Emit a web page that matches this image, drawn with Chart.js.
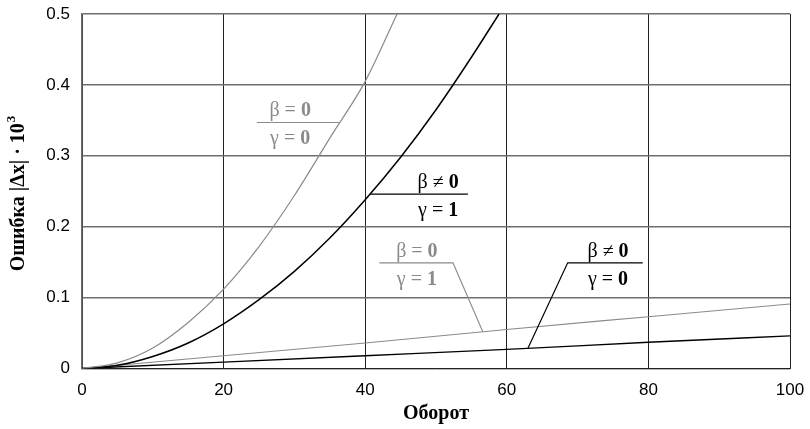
<!DOCTYPE html>
<html>
<head>
<meta charset="utf-8">
<script src="https://cdn.jsdelivr.net/npm/chart.js@4.4.0/dist/chart.umd.min.js"></script>
<style>
  html, body { margin: 0; padding: 0; background: #fff; }
  #wrap { width: 810px; height: 429px; }
</style>
</head>
<body>
<div id="wrap"><canvas id="grafico"></canvas></div>
<script>
// данные
const xTicks = [0, 20, 40, 60, 80, 100];
const yTicks = ['0', '0.1', '0.2', '0.3', '0.4', '0.5'];

const xB0G0 = [0, 5, 10, 15, 20, 25, 30, 35, 40, 44.5];
const yB0G0 = [0, 0.008, 0.029, 0.065, 0.112, 0.172, 0.244, 0.325, 0.405, 0.5];

const xBnG1 = [0, 5, 10, 15, 20, 25, 30, 35, 40, 45, 50, 55, 58.9];
const yBnG1 = [0, 0.0045, 0.017, 0.036, 0.063, 0.097, 0.137, 0.184, 0.238, 0.298, 0.365, 0.439, 0.5];

const xLin = [0, 20, 40, 60, 80, 100];
const yB0G1 = [0, 0.018, 0.036, 0.055, 0.073, 0.091];
const yBnG0 = [0, 0.009, 0.018, 0.027, 0.037, 0.046];

const pts = (xs, ys) => xs.map((x, i) => ({ x: x, y: ys[i] }));

// подписи кривых (в координатах данных)
const notes = [
    { top: [['β', 0], [' = ', 0], ['0', 1]], bottom: [['γ', 0], [' = ', 0], ['0', 1]],
      color: '#8a8a8a', tx: 29.4, path: [[24.7, 0.347], [36.3, 0.347]] },
    { top: [['β', 0], [' ≠ ', 0], ['0', 1]], bottom: [['γ', 0], [' = ', 0], ['1', 1]],
      color: '#000', tx: 50.3, path: [[40.7, 0.246], [54.5, 0.246]] },
    { top: [['β', 0], [' = ', 0], ['0', 1]], bottom: [['γ', 0], [' = ', 0], ['1', 1]],
      color: '#8a8a8a', tx: 47.3, path: [[42.0, 0.149], [52.4, 0.149], [56.6, 0.052]] },
    { top: [['β', 0], [' ≠ ', 0], ['0', 1]], bottom: [['γ', 0], [' = ', 0], ['0', 1]],
      color: '#000', tx: 74.3, path: [[79.2, 0.149], [68.6, 0.149], [63.0, 0.029]] }
];

function drawParts(ctx, parts, cx, y, color) {
    ctx.fillStyle = color;
    let fonts = parts.map(p => (p[1] ? 'bold ' : '') + '20px "Liberation Serif", "DejaVu Serif", serif');
    let w = 0;
    parts.forEach((p, i) => { ctx.font = fonts[i]; w += ctx.measureText(p[0]).width; });
    let x = cx - w / 2;
    parts.forEach((p, i) => {
        ctx.font = fonts[i];
        ctx.fillText(p[0], x, y);
        x += ctx.measureText(p[0]).width;
    });
}

const notesPlugin = {
    id: 'notes',
    afterDatasetsDraw(chart) {
        let ctx = chart.ctx;
        let xs = chart.scales.x, ys = chart.scales.y;
        ctx.save();
        notes.forEach(n => {
            ctx.strokeStyle = n.color;
            ctx.lineWidth = 1.2;
            ctx.beginPath();
            n.path.forEach((p, i) => {
                let px = xs.getPixelForValue(p[0]), py = ys.getPixelForValue(p[1]);
                if (i === 0) ctx.moveTo(px, py); else ctx.lineTo(px, py);
            });
            ctx.stroke();
            let cx = xs.getPixelForValue(n.tx);
            let ly = ys.getPixelForValue(n.path[0][1]);
            ctx.textBaseline = 'alphabetic';
            drawParts(ctx, n.top, cx, ly - 6, n.color);
            drawParts(ctx, n.bottom, cx, ly + 22, n.color);
        });
        ctx.restore();
    },
    afterDraw(chart) {
        let ctx = chart.ctx;
        let a = chart.chartArea;
        ctx.save();
        ctx.fillStyle = '#000';
        ctx.textBaseline = 'middle';
        // подпись оси X
        ctx.font = 'bold 20px "Liberation Serif", serif';
        ctx.textAlign = 'center';
        ctx.fillText('Оборот', (a.left + a.right) / 2, 414);
        // подпись оси Y
        ctx.translate(19, 194);
        ctx.rotate(-Math.PI / 2);
        ctx.textAlign = 'left';
        let main = 'Ошибка |Δx| · 10';
        ctx.font = 'bold 20px "Liberation Serif", serif';
        let w = ctx.measureText(main).width;
        ctx.font = 'bold 13px "Liberation Serif", serif';
        let w3 = ctx.measureText('3').width;
        let x0 = -(w + w3) / 2;
        ctx.font = 'bold 20px "Liberation Serif", serif';
        ctx.fillText(main, x0, 0);
        ctx.font = 'bold 13px "Liberation Serif", serif';
        ctx.fillText('3', x0 + w + 1, -7);
        ctx.restore();
    }
};

let ctx = document.getElementById('grafico').getContext('2d');
new Chart(ctx, {
    type: 'line',
    data: {
        datasets: [
            { data: pts(xB0G0, yB0G0), borderColor: '#8a8a8a', borderWidth: 1.2 },
            { data: pts(xBnG1, yBnG1), borderColor: '#000', borderWidth: 1.5 },
            { data: pts(xLin, yB0G1), borderColor: '#8a8a8a', borderWidth: 1.2 },
            { data: pts(xLin, yBnG0), borderColor: '#000', borderWidth: 1.3 }
        ]
    },
    options: {
        responsive: true,
        maintainAspectRatio: false,
        animation: false,
        layout: { padding: { top: 14, right: 20, left: 0, bottom: 0 } },
        elements: {
            point: { radius: 0 },
            line: { tension: 0.4, cubicInterpolationMode: 'monotone', fill: false }
        },
        plugins: { legend: { display: false }, tooltip: { enabled: false } },
        scales: {
            x: {
                type: 'linear', min: 0, max: 100,
                afterBuildTicks: s => { s.ticks = xTicks.map(v => ({ value: v })); },
                afterFit: s => { s.height = 60.5; s.paddingLeft = 0; s.paddingRight = 0; },
                ticks: {
                    color: '#000', padding: 12, maxRotation: 0,
                    font: { family: '"Liberation Sans", Arial, sans-serif', size: 17 }
                },
                grid: { color: '#222', lineWidth: 1, drawTicks: false },
                border: { color: '#222', width: 1 }
            },
            y: {
                type: 'linear', min: 0, max: 0.5,
                afterBuildTicks: s => { s.ticks = yTicks.map(v => ({ value: parseFloat(v) })); },
                afterFit: s => { s.width = 82; s.paddingTop = 0; s.paddingBottom = 0; },
                ticks: {
                    color: '#000', padding: 12,
                    font: { family: '"Liberation Sans", Arial, sans-serif', size: 17 },
                    callback: (v, i) => yTicks[i]
                },
                grid: { color: '#6e6e6e', lineWidth: 1.6, drawTicks: false },
                border: { color: '#6e6e6e', width: 1.6 }
            }
        }
    },
    plugins: [notesPlugin]
});
</script>
</body>
</html>
